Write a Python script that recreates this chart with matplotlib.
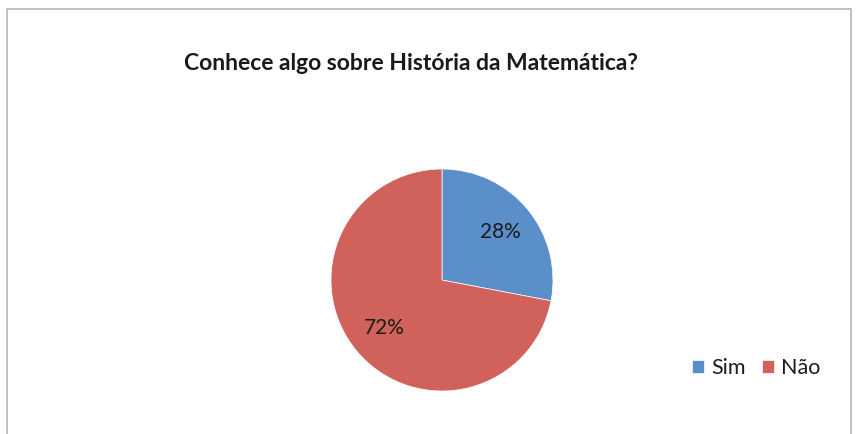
import matplotlib
matplotlib.use('Agg')
import matplotlib.pyplot as plt
from matplotlib.patches import Rectangle

plt.rcParams['font.family'] = ['Lato', 'DejaVu Sans']

title = 'Conhece algo sobre História da Matemática?'
labels = ['Sim', 'Não']
values = [28, 72]
colors = ['#5B8FCA', '#D0625B']

W, H = 859, 434
fig = plt.figure(figsize=(W / 100, H / 100), dpi=100)
fig.patch.set_facecolor('white')

# chart border
fig.patches.append(Rectangle((7 / W, -0.1), 844 / W, 1.1 - 9 / H, transform=fig.transFigure,
                             fill=False, edgecolor='#b5b5b5', linewidth=1.2))

cx, cy, r = 442, 280, 111
ax = fig.add_axes([(cx - r) / W, (H - cy - r) / H, 2 * r / W, 2 * r / H])
wedges, texts, autotexts = ax.pie(values, colors=colors, startangle=90, counterclock=False,
                                  autopct='%1.0f%%', pctdistance=0.68,
                                  wedgeprops=dict(edgecolor='white', linewidth=0.5),
                                  textprops=dict(fontsize=15, color='#1c1c1c'))
ax.set_xlim(-1, 1)
ax.set_ylim(-1, 1)

fig.text(411 / W, 1 - 63 / H, title, ha='center', va='center', fontsize=16.5,
         fontweight='bold', color='#1a1a1a')

fig.legend(wedges, labels, loc='center left', bbox_to_anchor=(692 / W, 1 - 368 / H),
           ncol=2, frameon=False, fontsize=15.5, handlelength=0.55, handleheight=0.55,
           handletextpad=0.35, columnspacing=0.75, borderpad=0, borderaxespad=0,
           labelcolor='#1c1c1c')

fig.savefig('out.png', dpi=100)
